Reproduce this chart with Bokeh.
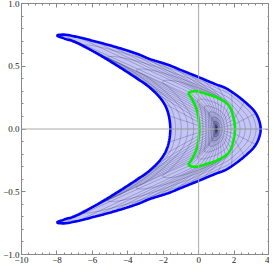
import numpy as np
from bokeh.plotting import figure
from bokeh.models import FixedTicker, LinearAxis, Span, Range1d
from bokeh.embed import file_html
from bokeh.resources import INLINE

# ---- values (upper half; shape is mirror-symmetric) ----
center_x, center_y = 1.0, 0.0

# outer boundary: from right end on the axis to the left tip
outer_x = [3.5, 3.25, 2.7, 1.6, 0.9, 0.05, -1.0, -1.7, -2.8, -3.4, -4.6, -5.9, -7.0, -7.6, -8.0]
outer_y = [0.0, 0.12, 0.205, 0.32, 0.36, 0.41, 0.47, 0.51, 0.56, 0.595, 0.65, 0.70, 0.738, 0.752, 0.745]
# inner boundary: from the left tip back to the axis
inner_x = [-8.0, -7.6, -7.0, -5.9, -4.6, -3.4, -2.8, -2.1, -1.75, -1.6]
inner_y = [0.745, 0.722, 0.695, 0.615, 0.505, 0.395, 0.335, 0.235, 0.14, 0.0]

# green curve: outer side (right end -> tip) and inner side (tip -> axis)
green_out_x = [2.05, 1.96, 1.69, 1.04, 0.49, 0.0, -0.3, -0.48, -0.56]
green_out_y = [0.0, 0.094, 0.19, 0.25, 0.277, 0.298, 0.3, 0.295, 0.283]
green_in_x = [-0.56, -0.42, -0.15, 0.0, 0.04]
green_in_y = [0.283, 0.25, 0.17, 0.08, 0.0]

x_ticks = [-10, -8, -6, -4, -2, 0, 2, 4]
x_labels = ["\u221210", "\u22128", "\u22126", "\u22124", "\u22122", "0", "2", "4"]
y_ticks = [-1.0, -0.5, 0.0, 0.5, 1.0]
y_labels = ["\u22121.0", "\u22120.5", "0.0", "0.5", "1.0"]

# ---- smooth curves through the read points (centripetal Catmull-Rom, pixel space) ----
PX, PY = 18.2, 127.5
TAU = 0.55


def smooth_chain(xs, ys, n=14):
    P = np.column_stack([np.asarray(xs, float) * PX, np.asarray(ys, float) * PY])
    first = np.array([P[1, 0], -P[1, 1]])      # mirror across the axis -> vertical tangent
    last = np.array([P[-2, 0], -P[-2, 1]])
    Q = np.vstack([first, P, last])
    out = [P[0]]
    for i in range(1, len(Q) - 2):
        P0, P1, P2, P3 = Q[i - 1], Q[i], Q[i + 1], Q[i + 2]
        t0 = 0.0
        t1 = t0 + max(np.linalg.norm(P1 - P0), 1e-6) ** 0.5
        t2 = t1 + max(np.linalg.norm(P2 - P1), 1e-6) ** 0.5
        t3 = t2 + max(np.linalg.norm(P3 - P2), 1e-6) ** 0.5
        t = np.linspace(t1, t2, n)[1:, None]
        A1 = (t1 - t) / (t1 - t0) * P0 + (t - t0) / (t1 - t0) * P1
        A2 = (t2 - t) / (t2 - t1) * P1 + (t - t1) / (t2 - t1) * P2
        A3 = (t3 - t) / (t3 - t2) * P2 + (t - t2) / (t3 - t2) * P3
        B1 = (t2 - t) / (t2 - t0) * A1 + (t - t0) / (t2 - t0) * A2
        B2 = (t3 - t) / (t3 - t1) * A2 + (t - t1) / (t3 - t1) * A3
        C = (t2 - t) / (t2 - t1) * B1 + (t - t1) / (t2 - t1) * B2
        out.extend(list(C))
    out = np.array(out)
    return out[:, 0] / PX, out[:, 1] / PY


def make_half(ox, oy, ix, iy, n=14):
    cx, cy = smooth_chain(list(ox) + list(ix[1:]), list(oy) + list(iy[1:]), n)
    k = (len(ox) - 1) * (n - 1)  # index of the tip in the dense chain
    return (cx[:k + 1], cy[:k + 1]), (cx[k:], cy[k:])


def _param(xs, ys):
    d = np.hypot(np.diff(xs) * PX, np.diff(ys) * PY)
    s = np.concatenate([[0.0], np.cumsum(d)])
    return s / s[-1]


def half_curve(parts, t):
    (oxa, oya), (ixa, iya) = parts
    so, si = _param(oxa, oya), _param(ixa, iya)
    t = np.asarray(t, float)
    a = np.clip(t / TAU, 0, 1)
    b = np.clip((t - TAU) / (1 - TAU), 0, 1)
    x = np.where(t <= TAU, np.interp(a, so, oxa), np.interp(b, si, ixa))
    y = np.where(t <= TAU, np.interp(a, so, oya), np.interp(b, si, iya))
    return x, y


B_parts = make_half(outer_x, outer_y, inner_x, inner_y)
G_parts = make_half(green_out_x, green_out_y, green_in_x, green_in_y)

EA, EB = 0.8, 0.25


def inner_loop(u, t):
    gx, gy = half_curve(G_parts, t)
    ex, ey = EA * np.cos(np.pi * t), EB * np.sin(np.pi * t)
    x = center_x + u * (1 - u) * ex + u * u * (gx - center_x)
    y = center_y + u * (1 - u) * ey + u * u * (gy - center_y)
    return x, y


def outer_loop(v, t):
    gx, gy = half_curve(G_parts, t)
    bx, by = half_curve(B_parts, t)
    return gx + v * (bx - gx), gy + v * (by - gy)


def full(x, y):
    return list(np.concatenate([x, x[::-1]])), list(np.concatenate([y, -y[::-1]]))


tf = np.linspace(0, 1, 401)
mesh_xs, mesh_ys = [], []
for u in [(k / 8) ** 1.5 for k in range(1, 8)]:
    fx, fy = full(*inner_loop(u, tf))
    mesh_xs.append(fx); mesh_ys.append(fy)
for v in [0.2, 0.4, 0.62, 0.82]:
    fx, fy = full(*outer_loop(v, tf))
    mesh_xs.append(fx); mesh_ys.append(fy)

uu = np.linspace(0, 1, 40)
for t in np.linspace(0, 1, 27):
    ix_, iy_ = inner_loop(uu[:, None], np.array([t])[None, :])
    ox_, oy_ = outer_loop(uu[1:, None], np.array([t])[None, :])
    rx = np.concatenate([ix_[:, 0], ox_[:, 0]])
    ry = np.concatenate([iy_[:, 0], oy_[:, 0]])
    mesh_xs.append(list(rx)); mesh_ys.append(list(ry))
    if 0 < t < 1:
        mesh_xs.append(list(rx)); mesh_ys.append(list(-ry))

Bx, By = full(*half_curve(B_parts, tf))
Gx, Gy = full(*half_curve(G_parts, tf))

# ---- figure ----
p = figure(width=269, height=265, output_backend="svg", toolbar_location=None,
           x_range=Range1d(-10, 4), y_range=Range1d(-1, 1),
           min_border_left=0, min_border_right=0, min_border_top=3, min_border_bottom=0,
           background_fill_color="white", border_fill_color="white")
p.grid.visible = False
p.outline_line_color = "#888888"

p.patch(Bx, By, fill_color="#c6c6f6", line_color=None)
p.multi_line(mesh_xs, mesh_ys, line_color="#2a2a55", line_alpha=0.45, line_width=0.6)
p.add_layout(Span(location=0, dimension="height", line_color="#aaaaaa", line_width=1))
p.add_layout(Span(location=0, dimension="width", line_color="#aaaaaa", line_width=1))
p.line(Bx, By, line_color="#0000ff", line_width=2.6)
p.line(Gx, Gy, line_color="#00ee00", line_width=2.6)

xminor = list(np.round(np.arange(-10, 4.001, 0.4), 3))
yminor = list(np.round(np.arange(-1, 1.001, 0.1), 3))


def style(ax):
    ax.axis_line_color = "#888888"
    ax.major_tick_line_color = "#888888"
    ax.minor_tick_line_color = "#888888"
    ax.major_tick_in = 4
    ax.major_tick_out = 0
    ax.minor_tick_in = 2
    ax.minor_tick_out = 0
    ax.major_label_standoff = 2
    ax.major_label_text_font = "Liberation Serif"
    ax.major_label_text_font_size = "9px"
    ax.major_label_text_color = "#222222"


p.xaxis.ticker = FixedTicker(ticks=x_ticks, minor_ticks=xminor)
p.xaxis.major_label_overrides = {t: l for t, l in zip(x_ticks, x_labels)}
p.yaxis.ticker = FixedTicker(ticks=y_ticks, minor_ticks=yminor)
p.yaxis.major_label_overrides = {t: l for t, l in zip(y_ticks, y_labels)}
style(p.xaxis[0])
style(p.yaxis[0])

top = LinearAxis(ticker=FixedTicker(ticks=x_ticks, minor_ticks=xminor))
right = LinearAxis(ticker=FixedTicker(ticks=y_ticks, minor_ticks=yminor))
style(top)
style(right)
top.major_label_overrides = {t: "" for t in x_ticks}
right.major_label_overrides = {t: "" for t in y_ticks}
top.major_label_standoff = 0
right.major_label_standoff = 0
p.add_layout(top, "above")
p.add_layout(right, "right")

open("out.html", "w").write(file_html(p, INLINE))
